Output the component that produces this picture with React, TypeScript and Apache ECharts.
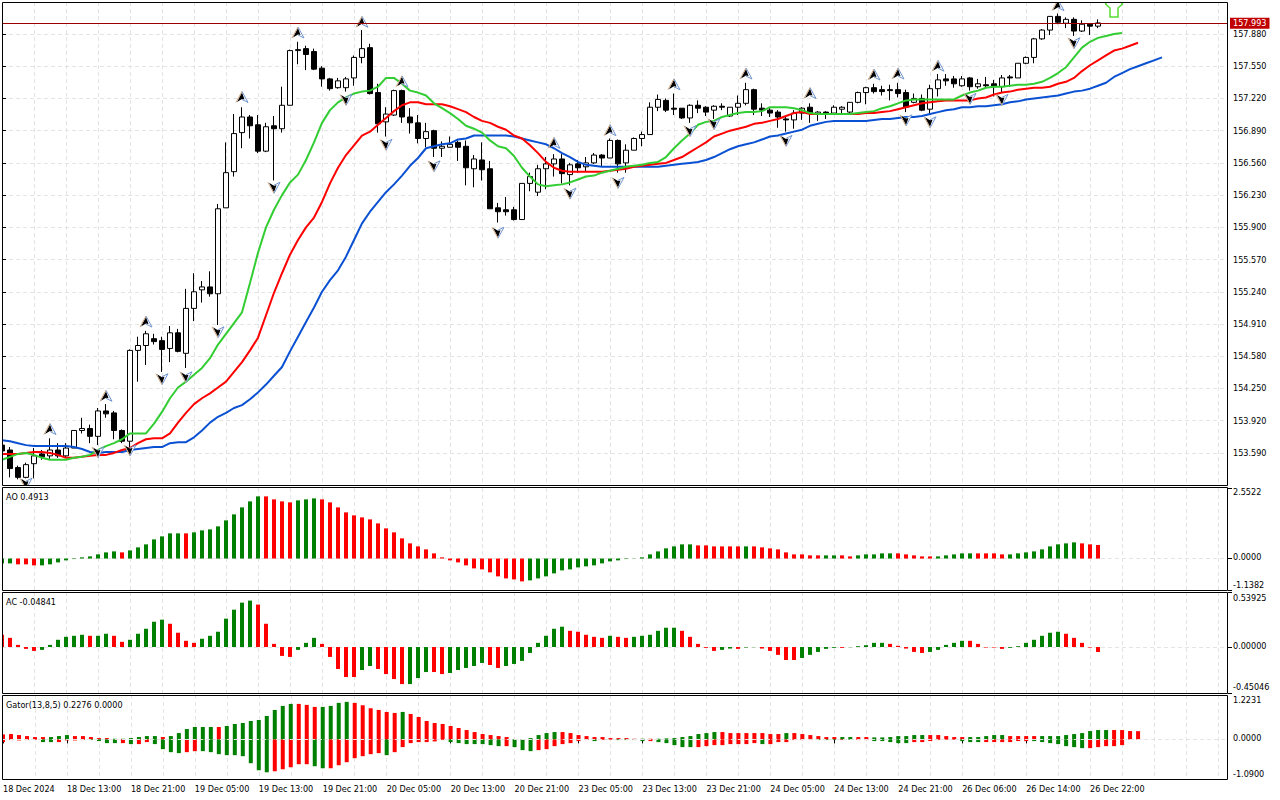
import React, { useEffect, useRef } from "react";
import * as echarts from "echarts";

const FONT = "'DejaVu Sans Condensed','DejaVu Sans',sans-serif";

const timeLabels = ["18 Dec 2024","18 Dec 13:00","18 Dec 21:00","19 Dec 05:00","19 Dec 13:00","19 Dec 21:00","20 Dec 05:00","20 Dec 13:00","20 Dec 21:00","23 Dec 05:00","23 Dec 13:00","23 Dec 21:00","24 Dec 05:00","24 Dec 13:00","24 Dec 21:00","26 Dec 06:00","26 Dec 14:00","26 Dec 22:00"];
const priceTicks = [157.88,157.55,157.22,156.89,156.56,156.23,155.9,155.57,155.24,154.91,154.58,154.25,153.92,153.59];
const bidPrice = 157.993;
const gridBars = [4,8,12,16,20,24,28,32,36,40,44,48,52,56,60,64,68,72,76,80,84,88,92,96,100,104,108,112,116,120,124,128,132,136,140,144,148,152];

const opens = [
153.67,153.62,153.44,153.34,153.48,153.58,153.56,153.62,153.56,153.64,
153.82,153.84,153.76,154.02,154.00,153.82,153.71,154.64,154.69,154.76,
154.74,154.66,154.82,154.61,155.07,155.26,155.29,155.22,156.10,156.47,
156.87,157.03,156.95,156.68,156.94,156.91,157.15,157.71,157.73,157.70,
157.53,157.42,157.33,157.33,157.43,157.64,157.74,157.28,156.98,157.05,
157.30,157.03,156.97,156.81,156.89,156.71,156.72,156.77,156.73,156.50,
156.59,156.50,156.10,156.08,156.08,155.98,156.35,156.26,156.50,156.55,
156.60,156.44,156.55,156.52,156.56,156.64,156.61,156.79,156.56,156.69,
156.81,156.85,157.13,157.20,157.12,157.12,157.02,157.15,157.13,157.10,
157.14,157.04,157.13,157.17,157.31,157.12,157.10,157.08,157.01,157.00,
157.07,157.13,157.06,157.08,157.07,157.11,157.08,157.18,157.28,157.33,
157.31,157.31,157.31,157.28,157.18,157.22,157.11,157.32,157.42,157.42,
157.35,157.43,157.34,157.36,157.37,157.34,157.44,157.43,157.58,157.64,
157.83,157.92,158.06,157.99,158.03,157.91,157.98,157.96];
const closes = [
153.61,153.43,153.34,153.47,153.56,153.55,153.62,153.56,153.64,153.82,
153.84,153.76,154.02,153.99,153.82,153.71,154.64,154.69,154.81,154.73,
154.65,154.82,154.63,155.07,155.24,155.29,155.22,156.09,156.46,156.86,
157.03,156.94,156.68,156.93,156.91,157.15,157.71,157.72,157.67,157.52,
157.42,157.32,157.40,157.42,157.64,157.73,157.27,156.96,157.06,157.30,
157.03,156.97,156.81,156.88,156.71,156.73,156.75,156.72,156.51,156.60,
156.49,156.09,156.06,156.06,155.98,156.35,156.42,156.50,156.55,156.60,
156.45,156.54,156.51,156.56,156.64,156.61,156.79,156.55,156.69,156.81,
156.85,157.13,157.21,157.10,157.11,157.02,157.15,157.12,157.08,157.14,
157.13,157.13,157.17,157.31,157.11,157.10,157.07,157.03,157.00,157.07,
157.12,157.07,157.08,157.06,157.13,157.13,157.18,157.28,157.33,157.29,
157.29,157.30,157.27,157.13,157.22,157.10,157.32,157.41,157.40,157.37,
157.42,157.34,157.37,157.35,157.34,157.43,157.43,157.58,157.64,157.83,
157.92,158.06,158.00,158.03,157.91,157.98,157.96,157.993];
const highs = [
153.68,153.65,153.46,153.49,153.64,153.62,153.74,153.69,153.69,153.82,
153.95,153.88,154.05,154.09,154.02,153.83,154.65,154.78,154.84,154.81,
154.78,154.89,154.86,155.27,155.43,155.35,155.45,156.14,156.77,157.06,
157.13,157.05,157.05,156.97,157.04,157.34,157.72,157.80,157.76,157.73,
157.55,157.43,157.43,157.44,157.66,157.92,157.78,157.37,157.13,157.31,
157.31,157.12,157.05,156.97,156.90,156.78,156.83,156.79,156.79,156.64,
156.77,156.58,156.15,156.21,156.11,156.35,156.46,156.54,156.62,156.65,
156.65,156.56,156.59,156.62,156.66,156.65,156.81,156.80,156.75,156.82,
156.88,157.18,157.26,157.22,157.27,157.12,157.16,157.20,157.14,157.15,
157.17,157.13,157.25,157.38,157.32,157.17,157.12,157.10,157.03,157.10,
157.13,157.17,157.09,157.09,157.15,157.14,157.18,157.29,157.34,157.37,
157.35,157.36,157.38,157.31,157.27,157.26,157.36,157.47,157.47,157.45,
157.45,157.44,157.42,157.44,157.41,157.46,157.46,157.58,157.65,157.84,
157.93,158.06,158.09,158.05,158.05,158.02,157.99,158.03];
const lows = [
153.54,153.34,153.32,153.33,153.33,153.52,153.52,153.54,153.54,153.64,
153.79,153.69,153.67,153.95,153.73,153.69,153.57,154.32,154.49,154.70,
154.42,154.52,154.62,154.46,154.94,155.13,155.19,154.90,156.10,156.42,
156.71,156.81,156.66,156.67,156.38,156.87,157.15,157.57,157.51,157.51,
157.34,157.30,157.32,157.29,157.35,157.58,157.26,156.87,156.83,157.04,
156.97,156.86,156.76,156.72,156.62,156.62,156.72,156.58,156.33,156.31,
156.38,156.09,155.95,156.02,155.97,155.98,156.27,156.22,156.29,156.42,
156.35,156.33,156.46,156.47,156.55,156.52,156.61,156.46,156.46,156.69,
156.73,156.85,157.09,157.08,157.05,157.01,156.97,157.07,157.04,157.01,
157.10,157.03,157.05,157.15,157.05,157.04,157.03,156.92,156.88,156.91,
157.00,156.97,156.99,157.01,157.05,157.05,157.07,157.17,157.16,157.27,
157.25,157.20,157.23,157.08,157.17,157.09,157.06,157.24,157.35,157.33,
157.34,157.30,157.32,157.33,157.24,157.28,157.34,157.43,157.57,157.58,
157.82,157.87,157.98,157.94,157.86,157.90,157.87,157.94];

const jaw = [
153.72,153.71,153.69,153.67,153.66,153.66,153.66,153.66,153.66,153.65,
153.63,153.60,153.59,153.60,153.60,153.60,153.62,153.63,153.64,153.65,
153.65,153.69,153.70,153.70,153.75,153.82,153.90,153.96,154.00,154.05,
154.08,154.14,154.21,154.29,154.38,154.47,154.63,154.78,154.93,155.08,
155.24,155.36,155.46,155.60,155.77,155.94,156.06,156.16,156.26,156.34,
156.43,156.53,156.61,156.71,156.73,156.75,156.76,156.80,156.81,156.84,
156.84,156.84,156.84,156.84,156.83,156.81,156.79,156.77,156.75,156.71,
156.66,156.62,156.57,156.54,156.53,156.52,156.52,156.52,156.52,156.52,
156.52,156.52,156.52,156.53,156.54,156.55,156.56,156.57,156.59,156.62,
156.66,156.70,156.73,156.75,156.77,156.80,156.83,156.84,156.86,156.88,
156.90,156.94,156.96,156.98,156.99,156.99,156.99,156.99,156.99,157.00,
157.01,157.01,157.02,157.03,157.03,157.04,157.06,157.08,157.10,157.11,
157.13,157.13,157.14,157.14,157.15,157.16,157.18,157.19,157.21,157.22,
157.23,157.24,157.25,157.27,157.29,157.30,157.32,157.35,157.38,157.44,
157.48,157.52,157.55,157.58,157.61,157.64];
const teeth = [
153.58,153.58,153.58,153.59,153.60,153.60,153.59,153.57,153.54,153.54,
153.55,153.56,153.57,153.57,153.59,153.62,153.64,153.69,153.73,153.74,
153.74,153.79,153.90,154.00,154.09,154.15,154.20,154.26,154.32,154.42,
154.52,154.64,154.77,155.00,155.23,155.43,155.62,155.77,155.90,156.00,
156.16,156.35,156.51,156.64,156.74,156.84,156.88,156.95,157.02,157.09,
157.15,157.18,157.18,157.16,157.16,157.16,157.14,157.11,157.08,157.03,
156.99,156.97,156.93,156.90,156.84,156.81,156.74,156.66,156.57,156.51,
156.48,156.47,156.47,156.47,156.47,156.47,156.48,156.49,156.50,156.52,
156.53,156.54,156.55,156.56,156.59,156.62,156.67,156.72,156.77,156.83,
156.86,156.89,156.91,156.93,156.96,156.97,156.99,157.01,157.04,157.07,
157.08,157.06,157.06,157.06,157.06,157.06,157.06,157.06,157.07,157.07,
157.08,157.09,157.11,157.13,157.15,157.17,157.18,157.19,157.20,157.20,
157.20,157.20,157.22,157.23,157.26,157.28,157.29,157.31,157.32,157.33,
157.33,157.34,157.37,157.39,157.43,157.50,157.56,157.61,157.66,157.71,
157.73,157.76,157.79];
const lips = [
153.52,153.55,153.58,153.59,153.57,153.54,153.52,153.52,153.52,153.54,
153.55,153.57,153.62,153.66,153.69,153.73,153.79,153.79,153.79,153.89,
154.01,154.15,154.26,154.32,154.39,154.46,154.56,154.70,154.81,154.92,
155.03,155.33,155.64,155.90,156.08,156.23,156.36,156.44,156.59,156.77,
156.97,157.10,157.18,157.23,157.27,157.29,157.30,157.34,157.43,157.43,
157.37,157.30,157.28,157.25,157.17,157.12,157.07,157.01,156.94,156.91,
156.87,156.79,156.73,156.71,156.63,156.51,156.42,156.34,156.32,156.33,
156.34,156.36,156.39,156.42,156.43,156.46,156.48,156.50,156.52,156.53,
156.54,156.56,156.57,156.62,156.71,156.79,156.86,156.95,156.98,156.99,
157.03,157.05,157.07,157.08,157.08,157.09,157.13,157.13,157.13,157.12,
157.10,157.07,157.06,157.06,157.06,157.06,157.06,157.07,157.08,157.09,
157.12,157.14,157.17,157.20,157.21,157.21,157.21,157.21,157.21,157.21,
157.25,157.28,157.30,157.33,157.34,157.34,157.35,157.36,157.36,157.37,
157.39,157.43,157.48,157.54,157.64,157.74,157.80,157.84,157.86,157.88,
157.89];

const fractalUps = [[6,153.83],[13,154.17],[18,154.93],[30,157.23],[37,157.89],[45,158.00],[50,157.39],[69,156.76],[76,156.89],[84,157.36],[93,157.47],[101,157.27],[109,157.46],[112,157.47],[117,157.55],[132,158.17]];
const fractalDowns = [[3,153.28],[12,153.60],[16,153.62],[20,154.35],[23,154.37],[27,154.83],[34,156.31],[43,157.21],[48,156.75],[54,156.53],[62,155.85],[71,156.25],[77,156.36],[86,156.89],[89,156.96],[98,156.79],[113,157.00],[116,156.98],[121,157.22],[125,157.21],[134,157.79]];
const signalArrow = [[139,158.054]];

const aoValues = [
-.175,-.175,-.21,-.21,-.247,-.247,-.21,-.139,-.066,-.018,
.042,.078,.151,.223,.259,.223,.295,.404,.513,.693,
.802,.911,.911,.911,.947,1.019,1.055,1.164,1.381,1.598,
1.851,2.068,2.249,2.249,2.141,2.068,2.032,2.104,2.141,2.177,
2.141,2.032,1.851,1.67,1.562,1.489,1.417,1.272,1.091,.947,
.73,.549,.44,.332,.187,.042,-.066,-.139,-.247,-.356,
-.392,-.5,-.645,-.718,-.754,-.826,-.79,-.718,-.645,-.537,
-.428,-.392,-.32,-.283,-.247,-.175,-.103,-.066,-.018,-.006,
.042,.151,.259,.368,.44,.513,.513,.476,.476,.44,
.44,.44,.44,.44,.44,.404,.368,.332,.223,.151,
.151,.115,.115,.115,.115,.115,.078,.115,.151,.151,
.187,.187,.187,.151,.115,.078,.078,.078,.115,.151,
.187,.187,.187,.187,.187,.151,.151,.187,.223,.259,
.332,.44,.513,.549,.585,.549,.513,.4913];
const aoColors = "GGRRRGGGGG"+"GGGGGRGGGG"+"GGGRGGGGGG"+"GGGRRRRGGG"+"RRRRRRRRRR"+"RRRRRRRRRR"+"RRRRRRGGGG"+"GGGGGGGGGG"+"GGGGGGGRRR"+"RRRGRRRRRR"+"RRRGGRRGGG"+"GGRRRRRGGG"+"GGRRRRGGGG"+"GGGGGRRR";

const acValues = [
.12,.09,.021,-.018,-.038,-.028,.021,.071,.1,.11,
.12,.11,.11,.13,.11,.051,.071,.13,.179,.248,
.268,.228,.14,.061,.041,.081,.11,.15,.278,.366,
.435,.455,.416,.228,.031,-.087,-.097,-.028,.041,.09,
.031,-.097,-.215,-.294,-.294,-.225,-.186,-.215,-.265,-.314,
-.363,-.363,-.304,-.245,-.245,-.265,-.255,-.225,-.205,-.186,
-.156,-.176,-.205,-.186,-.166,-.136,-.058,.041,.11,.179,
.199,.159,.15,.12,.1,.09,.11,.1,.09,.1,
.11,.12,.159,.189,.189,.159,.1,.031,-.008,-.038,
-.028,-.015,-.018,-.005,-.002,-.015,-.038,-.077,-.127,-.127,
-.107,-.077,-.048,-.018,-.008,-.008,-.002,.008,.018,.041,
.041,.031,.012,-.015,-.048,-.058,-.048,-.028,.021,.041,
.061,.061,.031,-.005,-.005,-.018,-.008,.008,.041,.071,
.11,.14,.15,.13,.09,.041,-.005,-.04841];
const acColors = "RRRRRGGGGG"+"GRGGRRGGGG"+"GRRRRGGGGG"+"GGRRRRRGGG"+"RRRRRGGRRR"+"RGGGRRGGGG"+"GRRGGGGGGG"+"GRRRRRGRRG"+"GGGGGRRRRR"+"GGRGGRRRRR"+"GGGGGRGGGG"+"GRRRRRGGGG"+"GRRRRRGGGG"+"GGGRRRRR";

const gatorUpper = [
.138,.148,.12,.092,.065,.065,.065,.092,.12,.092,
.092,.065,.037,.037,.018,.018,.037,.065,.092,.092,
.065,.092,.175,.286,.342,.342,.342,.342,.369,.425,
.452,.508,.535,.646,.812,.923,.978,.978,.951,.895,
.895,.923,1.006,1.034,1.006,.941,.858,.812,.757,.729,
.757,.701,.618,.508,.452,.425,.369,.314,.258,.203,
.148,.12,.092,.065,.009,.009,.037,.12,.175,.203,
.203,.175,.12,.092,.065,.065,.037,.037,.037,.018,
.018,.018,.018,.028,.037,.065,.092,.148,.175,.203,
.203,.175,.175,.175,.175,.175,.148,.148,.175,.175,
.148,.12,.092,.065,.065,.065,.065,.065,.065,.055,
.055,.065,.092,.092,.12,.12,.12,.12,.092,.065,
.065,.065,.065,.092,.12,.12,.092,.092,.092,.092,
.092,.092,.092,.12,.148,.175,.231,.258,.258,.258,
.258,.231,.2276];
const gatorUpperColors = "RRRRRRGGGR"+"RRRRGGGGGG"+"RGGGGGGRGG"+"GGGGGGGRRR"+"GGGGRRRRRR"+"GRRRRRRRRR"+"RRRRGGGGGG"+"RRRRRRRRRR"+"GRGGGGGGGG"+"RRRRRRRRGR"+"RRRRRGGRRG"+"GGGGGGRRRR"+"RGGGGGRRRR"+"GGGGGGGGGRRRR";
const gatorLower = [
-.074,-.018,-.028,-.018,-.009,-.074,-.074,-.074,-.028,-.028,
-.018,-.018,-.046,-.102,-.102,-.102,-.129,-.129,-.074,-.129,
-.268,-.351,-.378,-.351,-.323,-.323,-.351,-.406,-.434,-.434,
-.462,-.655,-.849,-.905,-.877,-.821,-.766,-.683,-.683,-.738,
-.794,-.794,-.711,-.628,-.517,-.462,-.406,-.378,-.434,-.351,
-.212,-.102,-.074,-.074,-.055,-.018,-.074,-.102,-.129,-.129,
-.129,-.157,-.185,-.185,-.212,-.295,-.323,-.295,-.268,-.185,
-.129,-.102,-.046,-.018,-.046,-.018,-.009,-.018,-.018,-.018,
-.046,-.046,-.074,-.102,-.157,-.212,-.212,-.212,-.185,-.157,
-.157,-.129,-.129,-.129,-.102,-.129,-.129,-.074,-.074,-.018,
-.018,-.018,-.018,-.018,-.018,-.018,-.009,-.018,-.018,-.046,
-.046,-.074,-.102,-.102,-.074,-.074,-.046,-.018,-.009,-.009,
-.046,-.074,-.074,-.074,-.074,-.074,-.074,-.046,-.046,-.046,
-.074,-.102,-.129,-.185,-.212,-.24,-.24,-.212,-.185,-.185,
-.157];
const gatorLowerColors = "RRRRRGGRRR"+"RGGGGRGRRG"+"GGGRRGGGGG"+"GGGGRRRRRG"+"GRRRRRRRGR"+"RRRRRRGGGG"+"GGGRGGGRRR"+"RRRRGRRGGG"+"GRGGGGGRRR"+"RRRRRGRRRR"+"RRGGGRGRRG"+"GGGGRRRRRR"+"GGGRRRRRRG"+"GGGGGGRRRRR";

const aoAxisLabels = [{ at: 2.407, text: "2.5522" }, { at: 0.05, text: "0.0000" }, { at: -0.957, text: "-1.1382" }];
const acAxisLabels = [{ at: 0.485, text: "0.53925" }, { at: 0.007, text: "0.00000" }, { at: -0.391, text: "-0.45046" }];
const gatorAxisLabels = [{ at: 1.096, text: "1.2231" }, { at: 0.036, text: "0.0000" }, { at: -0.943, text: "-1.0900" }];

const X_MAX = 153.25;
const GRID_STYLE = { color: "#e4e4e4", type: [4, 3] as number[], width: 1 };
const UP = "#008000";
const DOWN = "#ff0000";

function barData(values: number[], colors: string) {
  return values.map((v, i) => ({ value: [i, v], itemStyle: { color: colors[i] === "G" ? UP : DOWN } }));
}
function lineData(values: number[]) {
  return values.map((v, i) => [i, v]);
}
function xAxisFor(gridIndex: number) {
  return {
    type: "value", gridIndex, min: 0, max: X_MAX,
    axisLine: { show: false }, axisTick: { show: false, customValues: gridBars }, axisLabel: { show: false },
    splitLine: { show: true, lineStyle: GRID_STYLE },
  };
}
function zeroLineAxis(gridIndex: number, min: number, max: number, z = 0) {
  return {
    type: "value", gridIndex, position: "right", min, max, z,
    axisLine: { show: false },
    axisTick: { show: false, customValues: [0] },
    axisLabel: { show: false },
    splitLine: { show: true, lineStyle: GRID_STYLE },
  };
}
function scaleAxis(gridIndex: number, min: number, max: number, labels: { at: number; text: string }[]) {
  return {
    type: "value", gridIndex, position: "right", min, max,
    axisLine: { show: false },
    axisTick: { show: true, length: 4, lineStyle: { color: "#000" }, customValues: [min, 0, max] },
    axisLabel: {
      show: true, color: "#000", fontFamily: FONT, fontSize: 9, margin: 5, padding: [2, 0, 0, 0],
      customValues: labels.map((l) => l.at),
      formatter: (v: number) => (labels.find((l) => l.at === v) || { text: "" }).text,
    },
    splitLine: { show: false },
  };
}
function fractalItem(dir: "up" | "down") {
  return (_p: any, api: any) => {
    const [x, y] = api.coord([api.value(0), api.value(1)]);
    const s = dir === "up" ? 1 : -1;
    const p = (dx: number, dy: number) => [x + dx, y + s * dy];
    return {
      type: "group",
      children: [
        { type: "polygon", shape: { points: [p(0, -6), p(6, 5), p(0, 2), p(-6, 5)] }, style: { fill: "#fff" } },
        { type: "polygon", shape: { points: [p(0, -5), p(2.5, 2), p(0, 1.5), p(-5, 4.5)] }, style: { fill: "#000" } },
        { type: "polyline", shape: { points: [p(-6, 5), p(0, -6)] }, style: { fill: "none", stroke: "#c9a27c", lineWidth: 1 } },
        { type: "polyline", shape: { points: [p(0, -6), p(6, 5), p(0, 2)] }, style: { fill: "none", stroke: "#6f93d0", lineWidth: 1 } },
      ],
    };
  };
}
function arrowItem(_p: any, api: any) {
  const [x, y] = api.coord([api.value(0), api.value(1)]);
  const pts = [[-4, 0], [4, 0], [4, -9], [8.5, -13], [0, -26], [-8.5, -13], [-4, -9]].map(([a, b]) => [x + a, y + b]);
  return { type: "polygon", shape: { points: pts }, style: { fill: "#fff", stroke: "#55dd33", lineWidth: 1.5 } };
}
function paneTitle(text: string, top: number) {
  return { type: "text", left: 6, top, z: 20, style: { text, fill: "#000", font: `9px ${FONT}` } };
}
function paneFrame(y0: number, y1: number) {
  return { type: "rect", silent: true, z: 15, shape: { x: 2.5, y: y0, width: 1225, height: y1 - y0 }, style: { fill: "none", stroke: "#000", lineWidth: 1 } };
}

export default function App() {
  const ref = useRef<HTMLDivElement>(null);
  useEffect(() => {
    const chart = echarts.init(ref.current!, undefined, { renderer: "svg" });
    const candles = opens.map((o, i) => [i, o, closes[i], lows[i], highs[i]]);
    chart.setOption({
      animation: false,
      backgroundColor: "#fff",
      grid: [
        { left: 2, top: 2, width: 1226, height: 484 },
        { left: 2, top: 488, width: 1226, height: 102 },
        { left: 2, top: 592, width: 1226, height: 101 },
        { left: 2, top: 695, width: 1226, height: 84 },
      ],
      xAxis: [
        xAxisFor(0), xAxisFor(1), xAxisFor(2), xAxisFor(3),
        {
          type: "value", gridIndex: 3, min: 0, max: X_MAX, position: "bottom",
          axisLine: { show: false },
          axisTick: { show: true, length: 4, lineStyle: { color: "#000" }, customValues: timeLabels.map((_, k) => k * 8) },
          axisLabel: {
            show: true, color: "#000", fontFamily: FONT, fontSize: 9, margin: 5, align: "left",
            customValues: timeLabels.map((_, k) => k * 8),
            formatter: (v: number) => timeLabels[Math.round(v / 8)],
          },
          splitLine: { show: false },
        },
      ],
      yAxis: [
        {
          type: "value", gridIndex: 0, position: "right", min: 153.2514, max: 158.2075,
          axisLine: { show: false },
          axisTick: { show: true, length: 4, lineStyle: { color: "#000" }, customValues: priceTicks },
          axisLabel: { show: true, color: "#000", fontFamily: FONT, fontSize: 9, margin: 5, padding: [2, 0, 0, 0], customValues: priceTicks, formatter: (v: number) => v.toFixed(3) },
          splitLine: { show: true, lineStyle: GRID_STYLE },
        },
        zeroLineAxis(1, -1.1382, 2.5522),
        zeroLineAxis(2, -0.45046, 0.53925),
        zeroLineAxis(3, -1.09, 1.2231, 5),
        scaleAxis(1, -1.1382, 2.5522, aoAxisLabels),
        scaleAxis(2, -0.45046, 0.53925, acAxisLabels),
        scaleAxis(3, -1.09, 1.2231, gatorAxisLabels),
      ],
      series: [
        {
          type: "candlestick", xAxisIndex: 0, yAxisIndex: 0, barWidth: 5, data: candles, z: 2, clip: true,
          encode: { x: 0, y: [1, 2, 3, 4] },
          itemStyle: { color: "#fff", color0: "#000", borderColor: "#000", borderColor0: "#000", borderWidth: 1 },
          markLine: {
            silent: true, symbol: "none", animation: false,
            lineStyle: { color: "#9a0000", type: "solid", width: 1 },
            label: { position: "end", distance: 2, formatter: () => bidPrice.toFixed(3), color: "#fff", backgroundColor: "#c00000", fontFamily: FONT, fontSize: 9, padding: [1, 3, 1, 3] },
            data: [{ yAxis: bidPrice }],
          },
        },
        { type: "line", xAxisIndex: 0, yAxisIndex: 0, data: lineData(jaw), showSymbol: false, z: 3, lineStyle: { color: "#0a50d2", width: 2 } },
        { type: "line", xAxisIndex: 0, yAxisIndex: 0, data: lineData(teeth), showSymbol: false, z: 3, lineStyle: { color: "#ff0000", width: 2 } },
        { type: "line", xAxisIndex: 0, yAxisIndex: 0, data: lineData(lips), showSymbol: false, z: 3, lineStyle: { color: "#32cd32", width: 2 } },
        { type: "custom", xAxisIndex: 0, yAxisIndex: 0, data: fractalUps, encode: { x: 0, y: 1 }, renderItem: fractalItem("up"), z: 4, clip: true },
        { type: "custom", xAxisIndex: 0, yAxisIndex: 0, data: fractalDowns, encode: { x: 0, y: 1 }, renderItem: fractalItem("down"), z: 4, clip: true },
        { type: "custom", xAxisIndex: 0, yAxisIndex: 0, data: signalArrow, encode: { x: 0, y: 1 }, renderItem: arrowItem, z: 4, clip: true },
        { type: "bar", xAxisIndex: 1, yAxisIndex: 1, barWidth: 4, data: barData(aoValues, aoColors), z: 2 },
        { type: "bar", xAxisIndex: 2, yAxisIndex: 2, barWidth: 4, data: barData(acValues, acColors), z: 2 },
        { type: "bar", xAxisIndex: 3, yAxisIndex: 3, barWidth: 4, barGap: "-100%", data: barData(gatorUpper, gatorUpperColors), z: 2 },
        { type: "bar", xAxisIndex: 3, yAxisIndex: 3, barWidth: 4, barGap: "-100%", data: barData(gatorLower, gatorLowerColors), z: 2 },
      ],
      graphic: [
        { type: "rect", silent: true, z: 14, shape: { x: 0, y: 0, width: 2.5, height: 782 }, style: { fill: "#fff" } },
        paneFrame(2.5, 485.5),
        paneFrame(487.5, 590.5),
        paneFrame(592.5, 693.5),
        paneFrame(695.5, 779.5),
        paneTitle("AO 0.4913", 492),
        paneTitle("AC -0.04841", 597),
        paneTitle("Gator(13,8,5) 0.2276 0.0000", 700),
      ],
    });
    return () => chart.dispose();
  }, []);
  return <div ref={ref} style={{ position: "fixed", left: 0, top: 0, width: 1280, height: 800, background: "#fff" }} />;
}
